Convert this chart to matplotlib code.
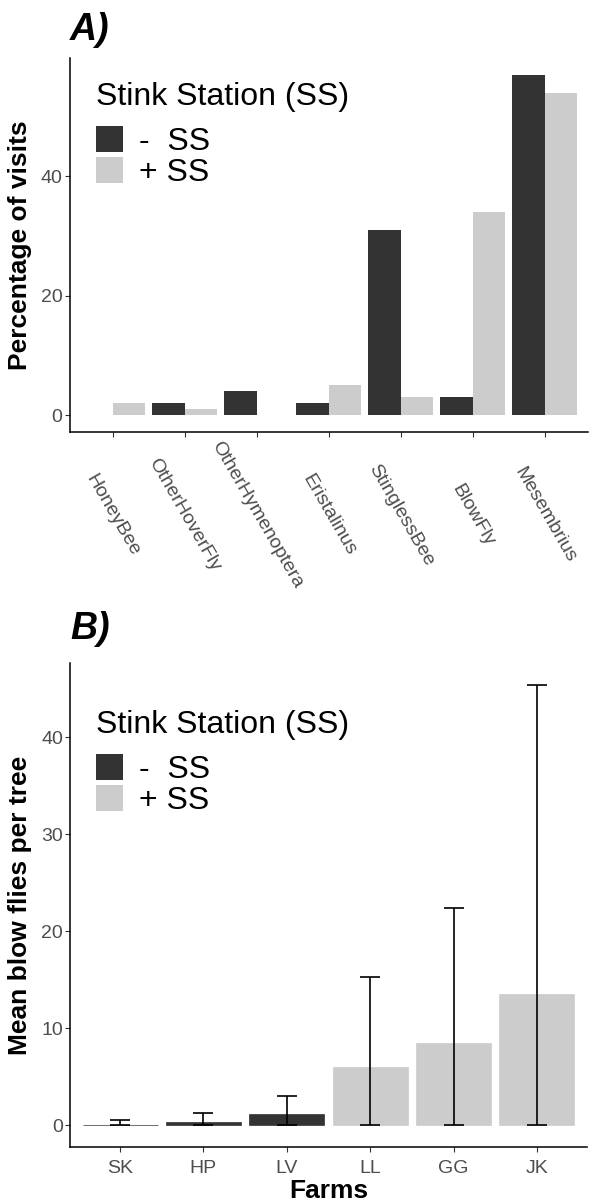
import matplotlib
matplotlib.use('Agg')
import numpy as np
import matplotlib.pyplot as plt
from matplotlib.patches import Patch

plt.rcParams['font.family'] = ['Liberation Sans', 'DejaVu Sans']

# Panel A: percentage of visits per taxon
taxa = ['HoneyBee', 'OtherHoverFly', 'OtherHymenoptera', 'Eristalinus',
        'StinglessBee', 'BlowFly', 'Mesembrius']
visits_minus = [0, 2, 4, 2, 31, 3, 57]
visits_plus = [2, 1, 0, 5, 3, 34, 54]

# Panel B: mean blow flies per tree per farm
farms = ['SK', 'HP', 'LV', 'LL', 'GG', 'JK']
farm_treat = ['-', '-', '-', '+', '+', '+']
blow_mean = [0.05, 0.31, 1.13, 6.0, 8.5, 13.5]
blow_lower = [0, 0, 0, 0, 0, 0]
blow_upper = [0.52, 1.27, 2.95, 15.3, 22.4, 45.4]

DARK = '#333333'
LIGHT = '#CCCCCC'
TICKGREY = '#4D4D4D'
W, H = 593, 1202


def fx(px):
    return px / W


def fy(py):
    return 1 - py / H


fig = plt.figure(figsize=(W / 100, H / 100), dpi=100)
axA = fig.add_axes([fx(69.5), fy(432), 518.5 / W, 374 / H])
axB = fig.add_axes([fx(70), fy(1147), 517 / W, 484 / H])


def style_axes(ax):
    for s in ['top', 'right']:
        ax.spines[s].set_visible(False)
    for s in ['left', 'bottom']:
        ax.spines[s].set_linewidth(1.1)
        ax.spines[s].set_color('black')
    ax.tick_params(axis='both', length=3.3, width=0.8, color='#333333',
                   labelcolor=TICKGREY, labelsize=14)
    ax.tick_params(axis='y', pad=1.8)


# --- Panel A ---
xa = np.arange(len(taxa))
bw = 0.45
axA.bar(xa - bw / 2, visits_minus, width=bw, color=DARK, linewidth=0)
axA.bar(xa + bw / 2, visits_plus, width=bw, color=LIGHT, linewidth=0)
style_axes(axA)
ymax = max(max(visits_minus), max(visits_plus))
axA.set_xlim(-0.6, len(taxa) - 0.4)
axA.set_ylim(-0.05 * ymax, 1.05 * ymax)
axA.set_yticks([0, 20, 40])
axA.set_xticks(xa)
axA.set_xticklabels(taxa, rotation=-60, ha='center', va='center',
                    rotation_mode='anchor')
axA.tick_params(axis='x', pad=56.5)
axA.set_ylabel('Percentage of visits', fontsize=19, fontweight='bold')
axA.yaxis.label.set_va('center')
axA.yaxis.set_label_coords((20 - 69.5) / 518.5, 0.5)

# --- Panel B ---
xb = np.arange(len(farms))
for treat, col in [('-', DARK), ('+', LIGHT)]:
    idx = [i for i, t in enumerate(farm_treat) if t == treat]
    axB.bar(xb[idx], [blow_mean[i] for i in idx], width=0.9, color=col,
            edgecolor=col, linewidth=0.5)
mean = np.array(blow_mean)
yerr = [mean - np.array(blow_lower), np.array(blow_upper) - mean]
axB.errorbar(xb, mean, yerr=yerr, fmt='none', ecolor='black',
             elinewidth=1.2, capsize=7.5, capthick=1.2)
style_axes(axB)
ymaxB = max(blow_upper)
axB.set_xlim(-0.6, len(farms) - 0.4)
axB.set_ylim(-0.05 * ymaxB, 1.05 * ymaxB)
axB.set_yticks([0, 10, 20, 30, 40])
axB.set_xticks(xb)
axB.set_xticklabels(farms)
axB.tick_params(axis='x', pad=6)
axB.set_ylabel('Mean blow flies per tree', fontsize=19, fontweight='bold')
axB.yaxis.label.set_va('center')
axB.yaxis.set_label_coords((20 - 70) / 517, 0.5)
axB.set_xlabel('Farms', fontsize=19, fontweight='bold')
axB.xaxis.label.set_va('baseline')
axB.xaxis.set_label_coords(0.5, -(1198 - 1147) / 484)

# panel tags
fig.text(fx(70), fy(40), 'A)', fontsize=27, fontweight='bold',
         fontstyle='italic', va='baseline')
fig.text(fx(70), fy(639), 'B)', fontsize=27, fontweight='bold',
         fontstyle='italic', va='baseline')

# legends
handles = [Patch(facecolor=DARK), Patch(facecolor=LIGHT)]
labels = ['-  SS', '+ SS']
for ax, title_base, row_top in [(axA, 105, 125.5), (axB, 733, 753.5)]:
    fig.text(fx(96), fy(title_base), 'Stink Station (SS)', fontsize=23,
             va='baseline')
    ax.legend(handles, labels, loc='upper left',
              bbox_to_anchor=(fx(96), fy(row_top)),
              bbox_transform=fig.transFigure, frameon=False, borderpad=0,
              borderaxespad=0, fontsize=23, handlelength=0.84,
              handleheight=0.9, handletextpad=0.5, labelspacing=0)

fig.savefig('out.png', dpi=100)
